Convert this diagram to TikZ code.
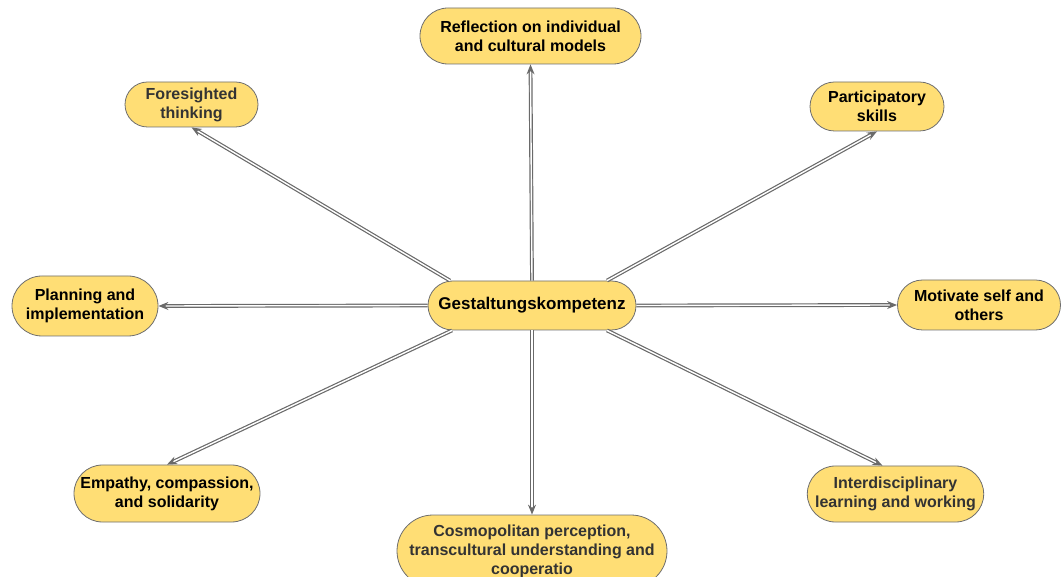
\documentclass[tikz,border=0pt]{standalone}
\usepackage{fontspec}
\setmainfont{Liberation Sans}
\usetikzlibrary{shapes.misc,arrows.meta}
\definecolor{boxfill}{HTML}{FFDE75}
\definecolor{boxline}{HTML}{6E6E6E}
\definecolor{linkgray}{HTML}{6A6A6A}
\definecolor{softtext}{HTML}{333333}
\tikzset{
  bubble/.style={rounded rectangle, draw=boxline, line width=0.8pt, fill=boxfill,
    align=center, inner sep=2pt, font=\fontsize{16}{19}\selectfont\bfseries},
  link/.style={draw=linkgray, line width=1.2pt, double=white, double distance=1.4pt,
    -{Stealth[length=10pt,width=8pt]}},
}
\begin{document}
\begin{tikzpicture}[x=1pt,y=1pt]
  \useasboundingbox (0,0) rectangle (1063,576);
  \clip (0,0) rectangle (1063,576);

  % hub and surrounding competences
  \node[bubble, minimum width=212pt, minimum height=49pt, font=\fontsize{17}{19}\selectfont\bfseries] (c) at (532,270.5) {Gestaltungskompetenz};
  \node[bubble, minimum width=225pt, minimum height=56pt] (r) at (530.5,540) {Reflection on individual\\and cultural models};
  \node[bubble, minimum width=137pt, minimum height=45pt, text=softtext] (f) at (191.5,471.5) {Foresighted\\thinking};
  \node[bubble, minimum width=138pt, minimum height=49pt] (p) at (877,469.5) {Participatory\\skills};
  \node[bubble, minimum width=150pt, minimum height=60pt] (pl) at (85,270) {Planning and\\implementation};
  \node[bubble, minimum width=167pt, minimum height=50pt] (m) at (979,271) {Motivate self and\\others};
  \node[bubble, minimum width=190pt, minimum height=57pt] (e) at (167,82.5) {Empathy, compassion,\\and solidarity};
  \node[bubble, minimum width=175pt, minimum height=56pt, text=softtext] (i) at (895.5,82) {Interdisciplinary\\learning and working};
  \node[bubble, minimum width=274pt, minimum height=72pt, text=softtext] (co) at (532,25) {Cosmopolitan perception,\\transcultural understanding and\\cooperatio};

  % connectors from the hub
  \draw[link] ([xshift=-82pt]c.north) -- (f.south);
  \draw[link] (c.north) -- (r.south);
  \draw[link] ([xshift=75pt]c.north) -- (p.south);
  \draw[link] (c.west) -- (pl.east);
  \draw[link] (c.east) -- (m.west);
  \draw[link] ([xshift=-80pt]c.south) -- (e.north);
  \draw[link] (c.south) -- (co.north);
  \draw[link] ([xshift=75pt]c.south) -- ([xshift=-13pt]i.north);
\end{tikzpicture}
\end{document}
